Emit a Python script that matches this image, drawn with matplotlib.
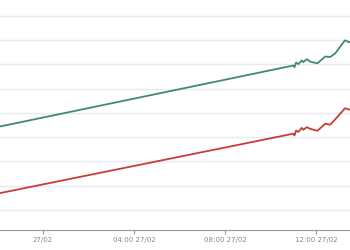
import matplotlib
matplotlib.use("Agg")
import matplotlib.pyplot as plt
import matplotlib.dates as mdates
from datetime import datetime, timedelta

# hours after 27/02 00:00
hours = [-3.0, 11.0, 11.05, 11.12, 11.22, 11.37, 11.44, 11.59, 11.74,
         12.06, 12.40, 12.62, 12.84, 13.27, 13.42, 13.8]
upper = [4.22, 6.95, 6.88, 7.07, 7.01, 7.16, 7.09, 7.21, 7.11,
         7.04, 7.32, 7.30, 7.45, 7.99, 7.92, 7.90]
lower = [1.48, 4.14, 4.07, 4.27, 4.21, 4.38, 4.30, 4.41, 4.34,
         4.26, 4.55, 4.51, 4.73, 5.19, 5.14, 5.10]

base = datetime(2023, 2, 27)
times = [base + timedelta(hours=h) for h in hours]

fig = plt.figure(figsize=(3.5, 2.5), dpi=100)
ax = fig.add_axes([0, 0.08, 1, 0.92])

ax.plot(times, upper, color='#3f8c6c', lw=1.3)
ax.plot(times, lower, color='#c73d3a', lw=1.3)

ax.set_xlim(base - timedelta(hours=1.89), base + timedelta(hours=13.49))
ax.set_ylim(0.17, 9.65)
ax.set_yticks(range(1, 10))
ax.yaxis.grid(True, color='#e9e9f2', lw=1)
ax.set_axisbelow(True)
ax.tick_params(axis='y', length=0, labelleft=False)

ax.xaxis.set_major_locator(mdates.HourLocator(byhour=[0, 4, 8, 12]))
ax.xaxis.set_major_formatter(mdates.DateFormatter('%H:%M %d/%m'))
labels = ['27/02', '04:00 27/02', '08:00 27/02', '12:00 27/02']
ax.set_xticks([base + timedelta(hours=4 * i) for i in range(4)])
ax.set_xticklabels(labels)
ax.tick_params(axis='x', length=3, width=0.8, color='#999999',
               labelsize=5, labelcolor='#888888', pad=2)

for side in ['top', 'right', 'left']:
    ax.spines[side].set_visible(False)
ax.spines['bottom'].set_color('#999999')
ax.spines['bottom'].set_linewidth(0.8)

fig.savefig('out.png', dpi=100)
